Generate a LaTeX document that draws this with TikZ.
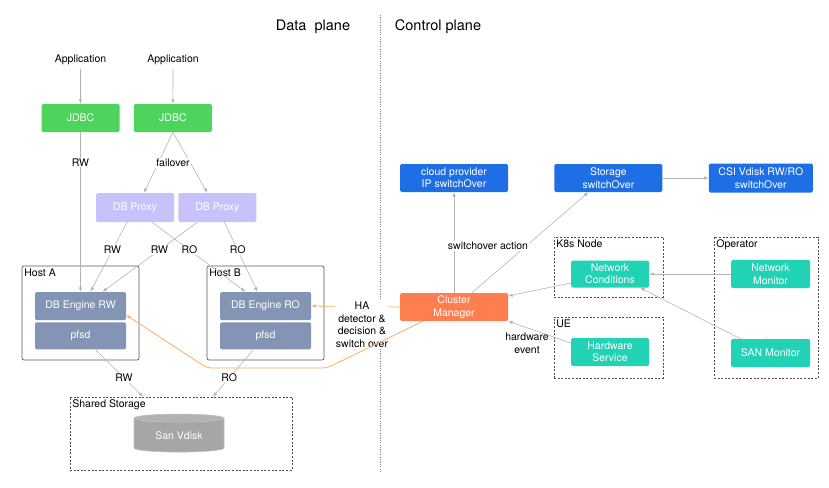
\documentclass[tikz,border=0pt]{standalone}
\usepackage{fontspec}
\setmainfont{TeX Gyre Heros}
\usepackage{xcolor}
\usepackage{tikz}
\usetikzlibrary{arrows.meta,positioning,calc,shapes.geometric}

\definecolor{jgreen}{HTML}{4CD45C}
\definecolor{plav}{HTML}{C7C2FC}
\definecolor{eslate}{HTML}{8394B5}
\definecolor{cblue}{HTML}{1E6FE6}
\definecolor{cteal}{HTML}{22D2B4}
\definecolor{corange}{HTML}{FF7E4F}
\definecolor{hline}{HTML}{F6AE62}
\definecolor{aline}{HTML}{B4B4B4}

\begin{document}
\begin{tikzpicture}[x=1pt, y=-1pt,
  every node/.style={font=\fontsize{10.5}{12.5}\selectfont},
  box/.style={inner sep=2pt, align=center, text=white, minimum height=28pt, rounded corners=1.5pt},
  jdbc/.style={box, fill=jgreen, minimum width=78pt},
  proxy/.style={box, fill=plav, minimum width=78pt, minimum height=29pt},
  eng/.style={box, fill=eslate, minimum width=91pt},
  act/.style={box, fill=cblue, minimum width=108pt},
  mon/.style={box, fill=cteal, minimum width=78pt, minimum height=27pt},
  mgr/.style={box, fill=corange, minimum width=108pt},
  host/.style={draw=black!65, line width=0.7pt, rounded corners=2pt, inner sep=0pt},
  grp/.style={draw=black!70, line width=0.7pt, dash pattern=on 2pt off 1.6pt, inner sep=0pt},
  glbl/.style={anchor=north west, inner sep=2.5pt},
  lbl/.style={fill=white, inner sep=1pt},
  arr/.style={-{Latex[length=4.5pt,width=3.5pt]}, draw=aline, line width=0.6pt},
  harr/.style={arr, draw=hline, line width=0.8pt},
]
  \useasboundingbox (0,0) rectangle (829,487);
  \node[font=\fontsize{14.5}{16}\selectfont] (dp) at (313,27) {Data\ \ plane};
  \node[font=\fontsize{14.5}{16}\selectfont] (cp) at (438,27) {Control plane};
  \coordinate (dtop) at (380,15);
  \coordinate (dbot) at (380,473);
  \draw[black!45, line width=0.9pt, dash pattern=on 1.2pt off 1.2pt] (dtop) -- (dbot);

  % data plane
  \node (app1) at (80.5,60) {Application};
  \node (app2) at (173,60) {Application};
  \node[jdbc] (j1) at (80.5,118) {JDBC};
  \node[jdbc, right=14pt of j1] (j2) {JDBC};
  \node[proxy] (px1) at (135,207.5) {DB Proxy};
  \node[proxy, right=4pt of px1] (px2) {DB Proxy};
  \node[host, minimum width=117pt, minimum height=94pt] (ha) at (80.5,313) {};
  \node[glbl] (lha) at (ha.north west) {Host A};
  \node[eng] (erw) at (80.5,306) {DB Engine RW};
  \node[eng, below=2pt of erw, minimum height=27pt] (fa) {pfsd};
  \node[host, minimum width=117pt, minimum height=94pt] (hb) at (265.5,313) {};
  \node[glbl] (lhb) at (hb.north west) {Host B};
  \node[eng] (ero) at (265.5,306) {DB Engine RO};
  \node[eng, below=2pt of ero, minimum height=27pt] (fb) {pfsd};
  \node[grp, minimum width=222pt, minimum height=73pt] (ss) at (181,433.5) {};
  \node[glbl] (lss) at (ss.north west) {Shared Storage};
  \node[cylinder, shape border rotate=90, aspect=0.15, draw=black!25, line width=0.6pt,
        cylinder uses custom fill, cylinder body fill=black!35, cylinder end fill=black!30,
        text=white, minimum width=90pt, minimum height=38pt] (vd) at (179,436) {San Vdisk};

  \draw[arr] (app1) -- (j1);
  \draw[arr] (app2) -- (j2);
  \draw[arr] (j1) -- node[lbl, pos=0.19] {RW} (erw);
  \draw[arr] (j2.south) -- ([xshift=9pt]px1.north);
  \draw[arr] (j2.south) -- ([xshift=-10pt]px2.north);
  \node[lbl] (lfo) at (173,163) {failover};
  \draw[arr] ([xshift=-8pt]px1.south) -- node[lbl, pos=0.4] {RW} ([xshift=10pt]erw.north);
  \draw[arr] ([xshift=-20pt]px2.south) -- node[lbl, pos=0.4] {RW} ([xshift=22pt]erw.north);
  \draw[arr] ([xshift=17pt]px1.south) -- node[lbl, pos=0.4] {RO} ([xshift=-20pt]ero.north);
  \draw[arr] ([xshift=7pt]px2.south) -- node[lbl, pos=0.4] {RO} ([xshift=-8pt]ero.north);
  \draw[arr] ([xshift=15pt]fa.south) -- node[lbl, pos=0.6] {RW} ([xshift=-38pt]ss.north);
  \draw[arr] ([xshift=-12pt]fb.south) -- node[lbl, pos=0.6] {RO} ([xshift=32pt]ss.north);

  % control plane
  \node[mgr] (cm) at (454,307) {Cluster\\Manager};
  \node[act] (cl) at (454,178) {cloud provider\\IP switchOver};
  \node[act, right=46pt of cl] (sw) {Storage\\switchOver};
  \node[act, right=46pt of sw, minimum width=104pt, minimum height=29pt] (csi) {CSI Vdisk RW/RO\\switchOver};
  \node[grp, minimum width=109pt, minimum height=60pt] (k8s) at (608.5,267) {};
  \node[glbl] (lk8s) at (k8s.north west) {K8s Node};
  \node[mon] (nc) at (610,274) {Network\\Conditions};
  \node[grp, minimum width=109pt, minimum height=61pt] (ue) at (608.5,347.5) {};
  \node[glbl] (lue) at (ue.north west) {UE};
  \node[mon, minimum height=28pt] (hw) at (610,352) {Hardware\\Service};
  \node[grp, minimum width=104pt, minimum height=141pt] (op) at (766,307.5) {};
  \node[glbl] (lop) at (op.north west) {Operator};
  \node[mon, minimum width=79pt, minimum height=28pt] (nm) at (770.5,274) {Network\\Monitor};
  \node[mon, minimum width=79pt, minimum height=28pt] (sm) at (770.5,353) {SAN Monitor};

  \draw[harr] (cm.west) -- (ero.east);
  \node[lbl, anchor=north, align=center] (lhad) at (362,301) {HA\\detector \&\\decision \&\\switch over};
  \coordinate (hb1) at (327,368);
  \coordinate (hb2) at (207,368);
  \draw[harr, rounded corners=5pt] ([xshift=-31pt]cm.south) -- (hb1) -- (hb2) -- ([yshift=-9pt]erw.east);

  \draw[arr] (cm) -- (cl);
  \draw[arr] ([xshift=18pt]cm.north) -- ([xshift=-20pt]sw.south);
  \node[lbl] (lsa) at (488,246) {switchover action};
  \draw[arr] (sw) -- (csi);
  \draw[arr] ([yshift=-9pt]nc.west) -- ([yshift=11pt]cm.east);
  \draw[arr] (nm) -- (nc);
  \draw[arr] ([xshift=-30pt]sm.north) -- ([xshift=30pt]nc.south);
  \draw[arr] ([yshift=9pt]hw.west) -- (cm.south east);
  \node[align=center] (lhw) at (527,343) {hardware\\event};
\end{tikzpicture}
\end{document}
